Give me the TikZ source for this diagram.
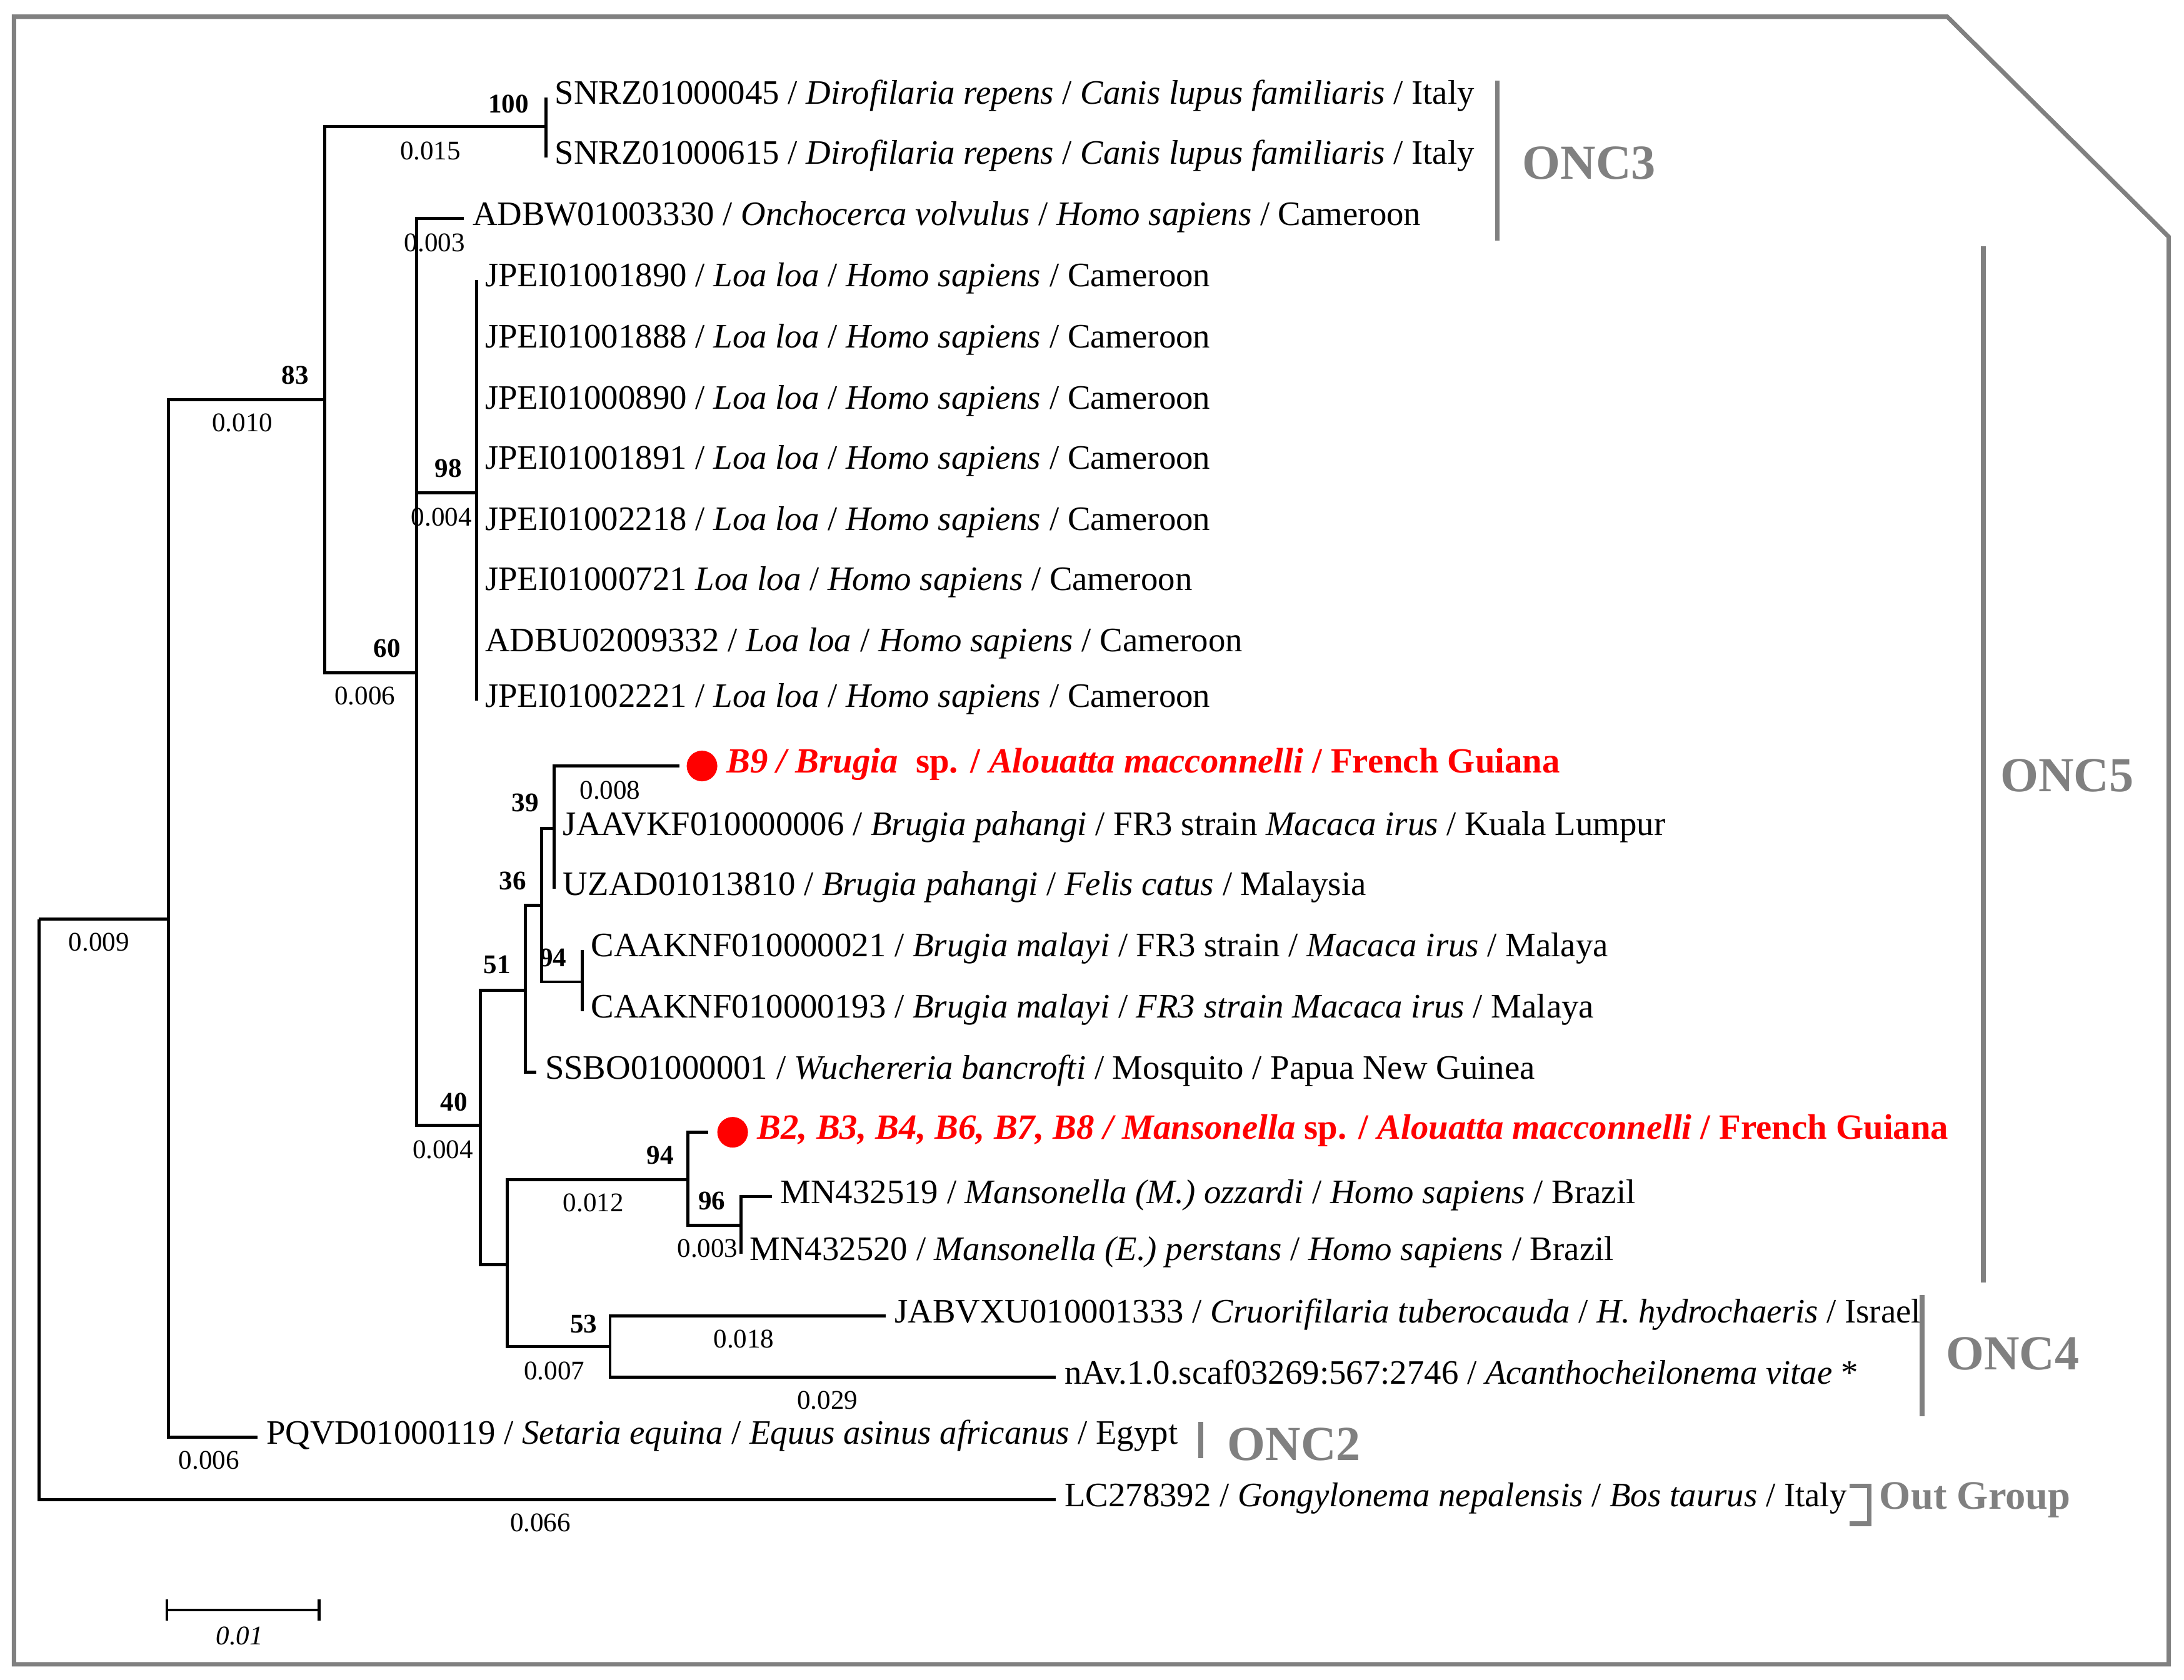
\documentclass[tikz,border=0pt]{standalone}
\usepackage{fontspec}
\setmainfont{Liberation Serif}
\usetikzlibrary{positioning,arrows.meta}

\begin{document}
\begin{tikzpicture}[x=0.02cm, y=-0.02cm,
    branch/.style={line width=1.25pt},
    tip/.style={anchor=west, inner sep=3.4pt, text height=0.56em, text depth=0pt,
      font=\fontsize{14}{16}\selectfont},
    sample/.style={tip, text=red, font=\fontsize{14.5}{16}\selectfont\bfseries},
    dot/.style={circle, fill=red, inner sep=0pt, minimum size=0.44cm},
    boot/.style={inner sep=0pt, text height=0.66em, text depth=0pt,
      font=\fontsize{11}{12}\selectfont\bfseries},
    blen/.style={inner sep=0pt, text height=0.66em, text depth=0pt,
      font=\fontsize{11}{12}\selectfont},
    grpline/.style={draw=black!50, line width=1.9pt},
    grp/.style={text=black!50, inner sep=0pt, font=\fontsize{20}{22}\selectfont\bfseries},
  ]
  \useasboundingbox (0,0) rectangle (1568,1206);
  % Frame with cut corner
  \draw[black!50, line width=1.8pt] (10,12) -- (1398,12) -- (1557,170) -- (1557,1195)
    -- (10,1195) -- cycle;

  % Internal nodes
  \coordinate (root) at (28,660);
  \coordinate (nA) at (121,660);
  \coordinate (n83) at (233,287);
  \coordinate (n100) at (392,91);
  \coordinate (n60) at (299,483);
  \coordinate (n98) at (342,354);
  \coordinate (n40) at (345,808);
  \coordinate (n51) at (377,711);
  \coordinate (n36) at (389,650);
  \coordinate (n39) at (398,595);
  \coordinate (n94b) at (418,705);
  \coordinate (nMO) at (364,908);
  \coordinate (n94m) at (494,847);
  \coordinate (n96) at (532,880);
  \coordinate (n53) at (438,967);

  % Tips
  \node[tip] (snrzA) at (392,70) {SNRZ01000045 / \textit{Dirofilaria repens} / \textit{Canis lupus familiaris} / Italy};
  \node[tip] (snrzB) at (392,113) {SNRZ01000615 / \textit{Dirofilaria repens} / \textit{Canis lupus familiaris} / Italy};
  \node[tip] (adbw) at (333,157) {ADBW01003330 / \textit{Onchocerca volvulus} / \textit{Homo sapiens} / Cameroon};
  \foreach \id/\y/\nm in {JPEI01001890/201/loaA, JPEI01001888/245/loaB, JPEI01000890/289/loaC,
      JPEI01001891/332/loaD, JPEI01002218/376/loaE, ADBU02009332/463/loaG, JPEI01002221/503/loaH}
    \node[tip] (\nm) at (342,\y) {\id{} / \textit{Loa loa} / \textit{Homo sapiens} / Cameroon};
  \node[tip] (loaF) at (342,419) {JPEI01000721 \textit{Loa loa} / \textit{Homo sapiens} / Cameroon};
  \node[dot] (dot9) at (504,550) {};
  \node[sample, right=0pt of dot9] (b9) {\textit{B9 / Brugia}\enspace sp. / \textit{Alouatta macconnelli} / French Guiana};
  \node[tip] (jaavkf) at (398,595) {JAAVKF010000006 / \textit{Brugia pahangi} / FR3 strain \textit{Macaca irus} / Kuala Lumpur};
  \node[tip] (uzad) at (398,638) {UZAD01013810 / \textit{Brugia pahangi} / \textit{Felis catus} / Malaysia};
  \node[tip] (caaA) at (418,682) {CAAKNF010000021 / \textit{Brugia malayi} / FR3 strain / \textit{Macaca irus} / Malaya};
  \node[tip] (caaB) at (418,726) {CAAKNF010000193 / \textit{Brugia malayi} / \textit{FR3 strain Macaca irus} / Malaya};
  \node[tip] (ssbo) at (385,770) {SSBO01000001 / \textit{Wuchereria bancrofti} / Mosquito / Papua New Guinea};
  \node[dot] (dotM) at (526,813) {};
  \node[sample, right=0pt of dotM] (bM) {\textit{B2, B3, B4, B6, B7, B8 / Mansonella} sp. / \textit{Alouatta macconnelli} / French Guiana};
  \node[tip] (mnA) at (554,859) {MN432519 / \textit{Mansonella (M.) ozzardi} / \textit{Homo sapiens} / Brazil};
  \node[tip] (mnB) at (532,900) {MN432520 / \textit{Mansonella (E.) perstans} / \textit{Homo sapiens} / Brazil};
  \node[tip] (jabvxu) at (636,945) {JABVXU010001333 / \textit{Cruorifilaria tuberocauda} / \textit{H. hydrochaeris} / Israel};
  \node[tip] (nav) at (758,989) {nAv.1.0.scaf03269:567:2746 / \textit{Acanthocheilonema vitae} *};
  \node[tip] (pqvd) at (185,1032) {PQVD01000119 / \textit{Setaria equina} / \textit{Equus asinus africanus} / Egypt};
  \node[tip] (lc) at (758,1077) {LC278392 / \textit{Gongylonema nepalensis} / \textit{Bos taurus} / Italy};

  % Branches
  \draw[branch] (root) -- (nA);
  \draw[branch] (root) |- (lc.west);
  \draw[branch] (nA) |- (n83);
  \draw[branch] (nA) |- (pqvd.west);
  \draw[branch] (n83) |- (n100);
  \draw[branch] (n83) |- (n60);
  \draw[branch] (n100) |- (snrzA.west);
  \draw[branch] (n100) |- (snrzB.west);
  \draw[branch] (n60) |- (adbw.west);
  \draw[branch] (n60) |- (n98);
  \draw[branch] (n60) |- (n40);
  \foreach \nm in {loaA,loaB,loaC,loaD,loaE,loaF,loaG,loaH}
    \draw[branch] (n98) |- (\nm.west);
  \draw[branch] (n40) |- (n51);
  \draw[branch] (n40) |- (nMO);
  \draw[branch] (n51) |- (n36);
  \draw[branch] (n51) |- (ssbo.west);
  \draw[branch] (n36) |- (n39);
  \draw[branch] (n36) |- (n94b);
  \draw[branch, shorten >=0.1cm] (n39) |- (dot9.west);
  \draw[branch] (n39) |- (jaavkf.west);
  \draw[branch] (n39) |- (uzad.west);
  \draw[branch] (n94b) |- (caaA.west);
  \draw[branch] (n94b) |- (caaB.west);
  \draw[branch] (nMO) |- (n94m);
  \draw[branch] (nMO) |- (n53);
  \draw[branch, shorten >=0.12cm] (n94m) |- (dotM.west);
  \draw[branch] (n94m) |- (n96);
  \draw[branch] (n96) |- (mnA.west);
  \draw[branch] (n96) |- (mnB.west);
  \draw[branch] (n53) |- (jabvxu.west);
  \draw[branch] (n53) |- (nav.west);

  % Bootstrap values
  \foreach \x/\y/\t [count=\k] in {365/75/100, 212/270/83, 278/466/60, 322/337/98, 326/792/40,
      357/693/51, 368/633/36, 377/577/39, 397/688/94, 474/830/94, 511/863/96, 419/951/53}
    \node[boot] (bs\k) at (\x,\y) {\t};
  % Branch lengths
  \foreach \x/\y/\t [count=\k] in {71/677/0.009, 174/304/0.010, 309/109/0.015, 262/500/0.006,
      312/175/0.003, 317/372/0.004, 318/826/0.004, 438/568/0.008, 426/864/0.012, 508/897/0.003,
      398/985/0.007, 534/962/0.018, 594/1006/0.029, 150/1049/0.006, 388/1094/0.066}
    \node[blen] (bl\k) at (\x,\y) {\t};

  % Scale bar
  \coordinate (sbL) at (119,1156);
  \coordinate (sbR) at (230,1156);
  \draw[line width=1.1pt, {Bar[width=0.31cm]}-{Bar[width=0.31cm]}] (sbL) -- (sbR);
  \node[blen, font=\fontsize{11}{12}\selectfont\itshape] (sbT) at (172,1175) {0.01};

  % Clade brackets
  \draw[grpline] (1075,58) -- (1075,173);
  \node[grp] (onc3) at (1141,117) {ONC3};
  \draw[grpline] (1424,177) -- (1424,921);
  \node[grp] (onc5) at (1484,557) {ONC5};
  \draw[grpline] (1380,930) -- (1380,1017);
  \node[grp] (onc4) at (1445,972) {ONC4};
  \draw[grpline] (862,1021) -- (862,1047);
  \node[grp] (onc2) at (929,1037) {ONC2};
  \draw[grpline] (1328,1067) -- (1342,1067) -- (1342,1094) -- (1328,1094);
  \node[grp, font=\fontsize{16.5}{19}\selectfont\bfseries] (outg) at (1418,1077) {Out Group};
\end{tikzpicture}
\end{document}
